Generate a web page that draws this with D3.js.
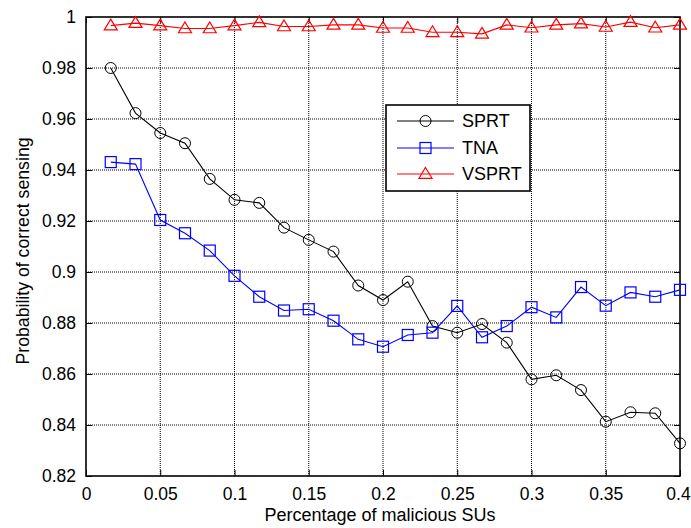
<!DOCTYPE html>
<html>
<head>
<meta charset="utf-8">
<script src="https://cdn.jsdelivr.net/npm/d3@7.9.0/dist/d3.min.js"></script>
<style>
  body { margin: 0; background: #fff; }
  svg { display: block; font-family: Arial, "Liberation Sans", sans-serif; }
</style>
</head>
<body>
<svg id="chart" width="691" height="528"></svg>
<script>
// x positions: k/60 for k = 1..24
const xValues = d3.range(1, 25).map(k => k / 60);

const sprt = [0.980, 0.9623, 0.9545, 0.9505, 0.9365, 0.9283, 0.9271, 0.9174, 0.9126, 0.908,
  0.8947, 0.889, 0.8962, 0.8788, 0.8762, 0.8796, 0.8723, 0.8579, 0.8595, 0.8537,
  0.8413, 0.845, 0.8446, 0.8328];
const tna = [0.9431, 0.9423, 0.9204, 0.9152, 0.9084, 0.8985, 0.8903, 0.8849, 0.8854, 0.8809,
  0.8736, 0.8707, 0.8753, 0.8762, 0.8867, 0.8744, 0.8788, 0.8862, 0.8822, 0.8941,
  0.8868, 0.892, 0.8903, 0.893];
const vsprt = [0.9966, 0.9976, 0.9966, 0.9955, 0.9955, 0.9966, 0.9979, 0.9963, 0.9963, 0.9969,
  0.9969, 0.9957, 0.9957, 0.994, 0.994, 0.9934, 0.9969, 0.9958, 0.9969, 0.9974,
  0.9961, 0.998, 0.9958, 0.9969];

const xTicks = [0, 0.05, 0.1, 0.15, 0.2, 0.25, 0.3, 0.35, 0.4];
const yTicks = [0.82, 0.84, 0.86, 0.88, 0.9, 0.92, 0.94, 0.96, 0.98, 1];

const series = [
  { name: 'SPRT', values: sprt, color: '#000000', marker: 'circle' },
  { name: 'TNA', values: tna, color: '#0000ff', marker: 'square' },
  { name: 'VSPRT', values: vsprt, color: '#ff0000', marker: 'triangle' }
];

const svg = d3.select('#chart');
const plotL = 86, plotR = 680, plotT = 17, plotB = 476;

const x = d3.scaleLinear().domain([0, 0.4]).range([plotL, plotR]);
const y = d3.scaleLinear().domain([0.82, 1]).range([plotB, plotT]);

// dotted grid
const grid = svg.append('g');
grid.selectAll('line.gx').data(xTicks.slice(1, -1)).join('line')
  .attr('x1', d => x(d)).attr('x2', d => x(d))
  .attr('y1', plotT).attr('y2', plotB)
  .attr('stroke', '#000').attr('stroke-width', 1).attr('stroke-dasharray', '1,1');
grid.selectAll('line.gy').data(yTicks.slice(1, -1)).join('line')
  .attr('y1', d => y(d)).attr('y2', d => y(d))
  .attr('x1', plotL).attr('x2', plotR)
  .attr('stroke', '#000').attr('stroke-width', 1).attr('stroke-dasharray', '1,1');

// axes (ticks inward, box on)
const tickLen = 6;
const xAxisG = svg.append('g').attr('transform', `translate(0,${plotB})`)
  .call(d3.axisBottom(x).tickValues(xTicks).tickSize(-tickLen).tickPadding(12).tickFormat(d3.format('')))
  .call(g => g.select('.domain').remove());
svg.append('g').attr('transform', `translate(0,${plotT})`)
  .call(d3.axisTop(x).tickValues(xTicks).tickSize(-tickLen).tickFormat(''))
  .call(g => g.select('.domain').remove());
svg.append('g').attr('transform', `translate(${plotL},0)`)
  .call(d3.axisLeft(y).tickValues(yTicks).tickSize(-tickLen).tickPadding(10).tickFormat(d3.format('')))
  .call(g => g.select('.domain').remove());
svg.append('g').attr('transform', `translate(${plotR},0)`)
  .call(d3.axisRight(y).tickValues(yTicks).tickSize(-tickLen).tickFormat(''))
  .call(g => g.select('.domain').remove());

svg.selectAll('.tick text').attr('font-size', 17.5).attr('fill', '#000')
  .attr('font-family', 'Arial, "Liberation Sans", sans-serif');
svg.selectAll('.tick line').attr('stroke', '#000');
// keep the last x label inside the page
xAxisG.selectAll('.tick text').filter(d => d === 0.4).attr('dx', -2);

svg.append('rect')
  .attr('x', plotL).attr('y', plotT)
  .attr('width', plotR - plotL).attr('height', plotB - plotT)
  .attr('fill', 'none').attr('stroke', '#000').attr('stroke-width', 1.6);

// markers
function drawMarker(g, type, cx, cy, color) {
  if (type === 'circle') {
    g.append('circle').attr('cx', cx).attr('cy', cy).attr('r', 5.5)
      .attr('fill', 'none').attr('stroke', color).attr('stroke-width', 1);
  } else if (type === 'square') {
    g.append('rect').attr('x', cx - 5.5).attr('y', cy - 5.5).attr('width', 11).attr('height', 11)
      .attr('fill', 'none').attr('stroke', color).attr('stroke-width', 1.2);
  } else {
    const s = 6.5;
    g.append('path')
      .attr('d', `M${cx},${cy - s}L${cx + s},${cy + s * 0.66}L${cx - s},${cy + s * 0.66}Z`)
      .attr('fill', 'none').attr('stroke', color).attr('stroke-width', 1.2);
  }
}

const line = d3.line().x(d => x(d[0])).y(d => y(d[1]));
series.forEach(s => {
  const pts = xValues.map((xv, i) => [xv, s.values[i]]);
  const g = svg.append('g');
  g.append('path').attr('d', line(pts)).attr('fill', 'none')
    .attr('stroke', s.color).attr('stroke-width', 1.1);
  pts.forEach(p => drawMarker(g, s.marker, x(p[0]), y(p[1]), s.color));
});

// legend
const lg = svg.append('g');
lg.append('rect').attr('x', 386).attr('y', 105).attr('width', 144).attr('height', 86)
  .attr('fill', '#fff').attr('stroke', '#000').attr('stroke-width', 1.6);
const rowsY = [121, 148, 174];
series.forEach((s, i) => {
  const ry = rowsY[i];
  lg.append('line').attr('x1', 397).attr('x2', 454).attr('y1', ry).attr('y2', ry)
    .attr('stroke', s.color).attr('stroke-width', 1.1);
  drawMarker(lg, s.marker, 425.5, ry, s.color);
  lg.append('text').attr('x', 462).attr('y', ry).attr('dy', '0.36em')
    .attr('font-size', 18).text(s.name);
});

// axis titles
svg.append('text').attr('x', 380).attr('y', 521)
  .attr('text-anchor', 'middle').attr('font-size', 18).text('Percentage of malicious SUs');
svg.append('text')
  .attr('transform', `translate(29,251) rotate(-90)`)
  .attr('text-anchor', 'middle').attr('font-size', 17.7).text('Probability of correct sensing');
</script>
</body>
</html>
